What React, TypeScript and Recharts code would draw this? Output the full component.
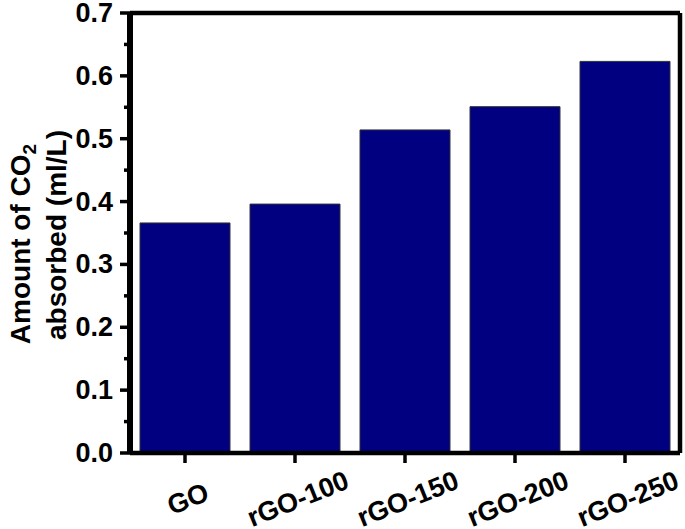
import { BarChart, Bar, XAxis, YAxis, Label } from 'recharts';

const categories = ['GO', 'rGO-100', 'rGO-150', 'rGO-200', 'rGO-250'];
const absorbed = [0.366, 0.396, 0.514, 0.551, 0.623];
const yTicks = [0, 0.05, 0.1, 0.15, 0.2, 0.25, 0.3, 0.35, 0.4, 0.45, 0.5, 0.55, 0.6, 0.65, 0.7];

const data = categories.map((name, i) => ({ name, value: absorbed[i] }));

const FONT = 'Arial, "Liberation Sans", Helvetica, sans-serif';
const frame = { stroke: '#000', strokeWidth: 4.5 };

function YTick({ x, y, payload }: any) {
  const v = payload.value as number;
  const major = Math.round(v * 20) % 2 === 0;
  return (
    <g>
      <line x1={x} x2={x - (major ? 10 : 6)} y1={y} y2={y} stroke="#000" strokeWidth={3.5} />
      {major && (
        <text x={x - 17} y={y} textAnchor="end" dominantBaseline="central"
          fontFamily={FONT} fontWeight="bold" fontSize={27} fill="#000">
          {v.toFixed(1)}
        </text>
      )}
    </g>
  );
}

function XTick({ x, y, payload }: any) {
  const cx = x + 3;
  const cy = y + 46;
  return (
    <g>
      <line x1={x} x2={x} y1={y} y2={y + 10} stroke="#000" strokeWidth={3.5} />
      <text x={cx} y={cy} transform={`rotate(-22 ${cx} ${cy})`} textAnchor="middle" dominantBaseline="central"
        fontFamily={FONT} fontWeight="bold" fontSize={27} fill="#000">
        {payload.value}
      </text>
    </g>
  );
}

function YTitle() {
  return (
    <g fontFamily={FONT} fontWeight="bold" fontSize={28} fill="#000">
      <text x={30} y={244} transform="rotate(-90 30 244)" textAnchor="middle">
        Amount of CO<tspan fontSize={19} dy={6}>2</tspan>
      </text>
      <text x={66} y={235} transform="rotate(-90 66 235)" textAnchor="middle">
        absorbed (ml/L)
      </text>
    </g>
  );
}

export default function App() {
  return (
    <div style={{ position: 'absolute', left: 0, top: 0, background: '#fff' }}>
      <BarChart width={685} height={529} data={data} barCategoryGap={10}
        margin={{ top: 12, right: 4, left: 0, bottom: 0 }}>
        <XAxis dataKey="name" height={76} tickSize={0} tickMargin={0} tickLine={false}
          stroke="#000" strokeWidth={4.5} axisLine={frame} tick={<XTick />} interval={0} />
        <XAxis xAxisId="top" dataKey="name" orientation="top" height={1} tick={false} tickLine={false}
          stroke="#000" strokeWidth={4.5} axisLine={frame} />
        <YAxis width={130} domain={[0, 0.7]} ticks={yTicks} interval={0} tickSize={0} tickMargin={0}
          tickLine={false} stroke="#000" strokeWidth={6} axisLine={{ stroke: '#000', strokeWidth: 6 }} tick={<YTick />}>
          <Label content={<YTitle />} />
        </YAxis>
        <YAxis yAxisId="right" orientation="right" width={1} domain={[0, 0.7]} tick={false} tickLine={false}
          stroke="#000" strokeWidth={4.5} axisLine={frame} />
        <Bar dataKey="value" fill="#000080" stroke="#333" strokeWidth={1} isAnimationActive={false} />
      </BarChart>
    </div>
  );
}
